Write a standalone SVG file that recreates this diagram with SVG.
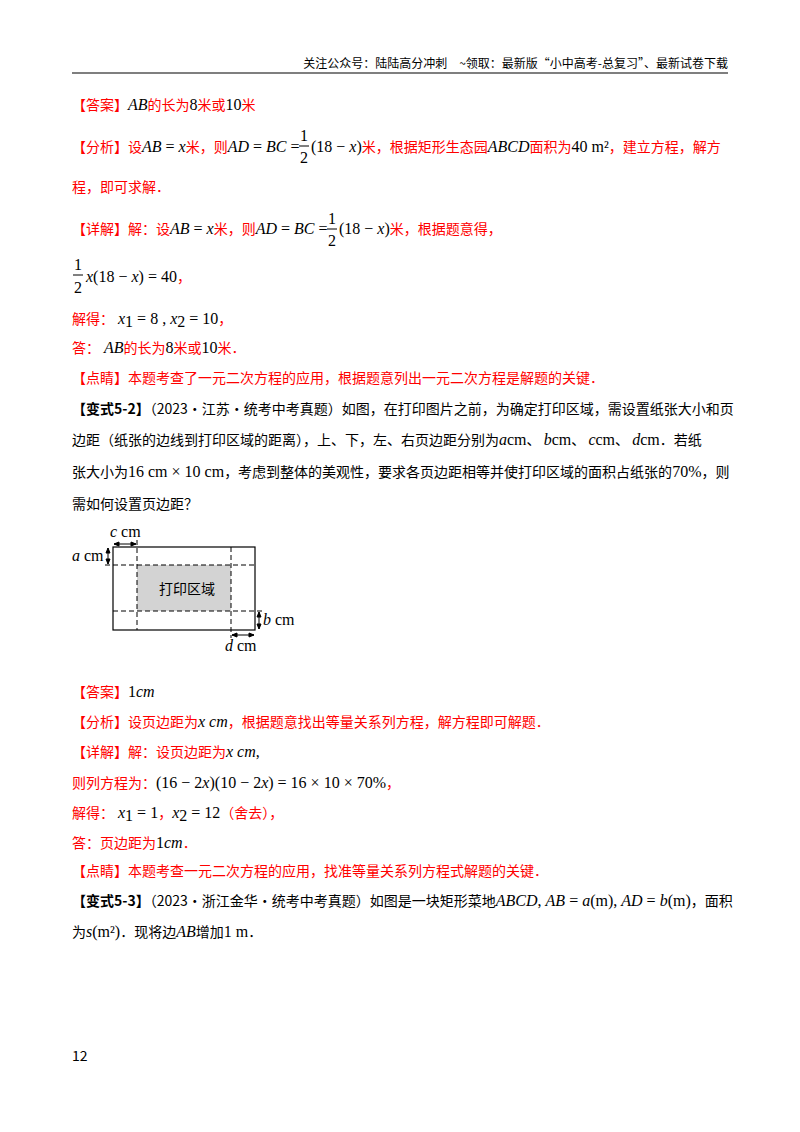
<svg xmlns="http://www.w3.org/2000/svg" width="800" height="1132" viewBox="0 0 800 1132">
<style>
text{font-family:"Noto Sans CJK SC","Liberation Sans",sans-serif;font-size:14px;fill:#000}
.r{fill:#f00}
.m{font-family:"Liberation Serif","Noto Sans CJK SC",serif;font-size:16px;fill:#000}
.i{font-style:italic}
.h{font-size:12px}
.b{font-weight:bold}
.dash{stroke:#000;stroke-dasharray:5,3;fill:none;stroke-width:1}
</style>
<rect width="800" height="1132" fill="#fff"/>
<text x="728" y="68" class="h" text-anchor="end">关注公众号：陆陆高分冲刺　~领取：最新版“小中高考-总复习”、最新试卷下载</text>
<line x1="72" y1="73" x2="728" y2="73" stroke="#000" stroke-width="1.2"/>

<text x="72" y="110"><tspan class="r">【答案】</tspan><tspan class="m i">AB</tspan><tspan class="r">的长为</tspan><tspan class="m r">8</tspan><tspan class="r">米或</tspan><tspan class="m r">10</tspan><tspan class="r">米</tspan></text>

<text x="72" y="152"><tspan class="r">【分析】设</tspan><tspan class="m i">AB</tspan><tspan class="m"> = </tspan><tspan class="m i">x</tspan><tspan class="r">米，则</tspan><tspan class="m i">AD</tspan><tspan class="m"> = </tspan><tspan class="m i">BC</tspan><tspan class="m"> = </tspan></text>
<text x="300" y="141" class="m">1</text><line x1="299" y1="146" x2="309" y2="146" stroke="#000"/><text x="300" y="163" class="m">2</text>
<text x="311" y="152"><tspan class="m">(18 − </tspan><tspan class="m i">x</tspan><tspan class="m">)</tspan><tspan class="r">米，根据矩形生态园</tspan><tspan class="m i">ABCD</tspan><tspan class="r">面积为</tspan><tspan class="m">40 m²</tspan><tspan class="r">，建立方程，解方</tspan></text>
<text x="72" y="192" class="r">程，即可求解．</text>

<text x="72" y="234"><tspan class="r">【详解】解：设</tspan><tspan class="m i">AB</tspan><tspan class="m"> = </tspan><tspan class="m i">x</tspan><tspan class="r">米，则</tspan><tspan class="m i">AD</tspan><tspan class="m"> = </tspan><tspan class="m i">BC</tspan><tspan class="m"> = </tspan></text>
<text x="328" y="224" class="m">1</text><line x1="327" y1="229" x2="337" y2="229" stroke="#000"/><text x="328" y="246" class="m">2</text>
<text x="339" y="234"><tspan class="m">(18 − </tspan><tspan class="m i">x</tspan><tspan class="m">)</tspan><tspan class="r">米，根据题意得，</tspan></text>

<text x="74" y="270" class="m">1</text><line x1="73" y1="275" x2="83" y2="275" stroke="#000"/><text x="74" y="293" class="m">2</text>
<text x="86" y="282"><tspan class="m i">x</tspan><tspan class="m">(18 − </tspan><tspan class="m i">x</tspan><tspan class="m">) = 40</tspan><tspan class="r">，</tspan></text>

<text x="72" y="324"><tspan class="r">解得：</tspan><tspan class="m i"> x</tspan><tspan class="m" font-size="11" dy="3">1</tspan><tspan class="m" dy="-3"> = 8 , </tspan><tspan class="m i">x</tspan><tspan class="m" font-size="11" dy="3">2</tspan><tspan class="m" dy="-3"> = 10</tspan><tspan class="r">，</tspan></text>
<text x="72" y="353"><tspan class="r">答：</tspan><tspan class="m i"> AB</tspan><tspan class="r">的长为</tspan><tspan class="m r">8</tspan><tspan class="r">米或</tspan><tspan class="m r">10</tspan><tspan class="r">米．</tspan></text>
<text x="72" y="383" class="r">【点睛】本题考查了一元二次方程的应用，根据题意列出一元二次方程是解题的关键．</text>

<text x="72" y="414"><tspan class="b">【变式5-2】</tspan>（2023·江苏·统考中考真题）如图，在打印图片之前，为确定打印区域，需设置纸张大小和页</text>
<text x="72" y="445">边距（纸张的边线到打印区域的距离），上、下，左、右页边距分别为<tspan class="m i">a</tspan><tspan class="m">cm</tspan>、 <tspan class="m i">b</tspan><tspan class="m">cm</tspan>、 <tspan class="m i">c</tspan><tspan class="m">cm</tspan>、 <tspan class="m i">d</tspan><tspan class="m">cm</tspan>．若纸</text>
<text x="72" y="477">张大小为<tspan class="m">16 cm × 10 cm</tspan>，考虑到整体的美观性，要求各页边距相等并使打印区域的面积占纸张的<tspan class="m">70%</tspan>，则</text>
<text x="72" y="509">需如何设置页边距？</text>

<g id="figure">
<rect x="137" y="565" width="94" height="46" fill="#d3d3d3"/>
<rect x="113" y="547" width="142" height="83" fill="none" stroke="#000" stroke-width="1.2"/>
<line class="dash" x1="137" y1="540" x2="137" y2="630"/>
<line class="dash" x1="231" y1="547" x2="231" y2="638"/>
<line class="dash" x1="105" y1="565" x2="255" y2="565"/>
<line class="dash" x1="113" y1="611" x2="262" y2="611"/>
<g stroke="#000" stroke-width="1">
<line x1="114" y1="544" x2="136" y2="544"/><path d="M114 544l5-2v4zM136 544l-5-2v4z"/>
<line x1="108" y1="548" x2="108" y2="564"/><path d="M108 548l-2 5h4zM108 564l-2-5h4z"/>
<line x1="259" y1="612" x2="259" y2="629"/><path d="M259 612l-2 5h4zM259 629l-2-5h4z"/>
<line x1="232" y1="635" x2="254" y2="635"/><path d="M232 635l5-2v4zM254 635l-5-2v4z"/>
</g>
<text x="159" y="594" font-size="13">打印区域</text>
<text x="110" y="537" class="m" font-size="14"><tspan class="i">c</tspan> cm</text>
<text x="72" y="561" class="m" font-size="14"><tspan class="i">a</tspan> cm</text>
<text x="263" y="625" class="m" font-size="14"><tspan class="i">b</tspan> cm</text>
<text x="225" y="651" class="m" font-size="14"><tspan class="i">d</tspan> cm</text>
</g>

<text x="72" y="697"><tspan class="r">【答案】</tspan><tspan class="m">1</tspan><tspan class="m i">cm</tspan></text>
<text x="72" y="727"><tspan class="r">【分析】设页边距为</tspan><tspan class="m i">x cm</tspan><tspan class="r">，根据题意找出等量关系列方程，解方程即可解题．</tspan></text>
<text x="72" y="757"><tspan class="r">【详解】解：设页边距为</tspan><tspan class="m i">x cm</tspan><tspan class="m">,</tspan></text>
<text x="72" y="788"><tspan class="r">则列方程为：</tspan><tspan class="m">(16 − 2</tspan><tspan class="m i">x</tspan><tspan class="m">)(10 − 2</tspan><tspan class="m i">x</tspan><tspan class="m">) = 16 × 10 × 70%</tspan><tspan class="r">，</tspan></text>
<text x="72" y="818"><tspan class="r">解得：</tspan><tspan class="m i"> x</tspan><tspan class="m" font-size="11" dy="3">1</tspan><tspan class="m" dy="-3"> = 1</tspan><tspan class="r">，</tspan><tspan class="m i">x</tspan><tspan class="m" font-size="11" dy="3">2</tspan><tspan class="m" dy="-3"> = 12</tspan><tspan class="r">（舍去），</tspan></text>
<text x="72" y="848"><tspan class="r">答：页边距为</tspan><tspan class="m">1</tspan><tspan class="m i">cm</tspan><tspan class="r">．</tspan></text>
<text x="72" y="876" class="r">【点睛】本题考查一元二次方程的应用，找准等量关系列方程式解题的关键．</text>
<text x="72" y="906"><tspan class="b">【变式5-3】</tspan>（2023·浙江金华·统考中考真题）如图是一块矩形菜地<tspan class="m i">ABCD</tspan><tspan class="m">, </tspan><tspan class="m i">AB</tspan><tspan class="m"> = </tspan><tspan class="m i">a</tspan><tspan class="m">(m), </tspan><tspan class="m i">AD</tspan><tspan class="m"> = </tspan><tspan class="m i">b</tspan><tspan class="m">(m)</tspan>，面积</text>
<text x="72" y="937">为<tspan class="m i">s</tspan><tspan class="m">(m²)</tspan>．现将边<tspan class="m i">AB</tspan>增加<tspan class="m">1 m</tspan>．</text>
<text x="72" y="1061" font-size="12">12</text>
</svg>
